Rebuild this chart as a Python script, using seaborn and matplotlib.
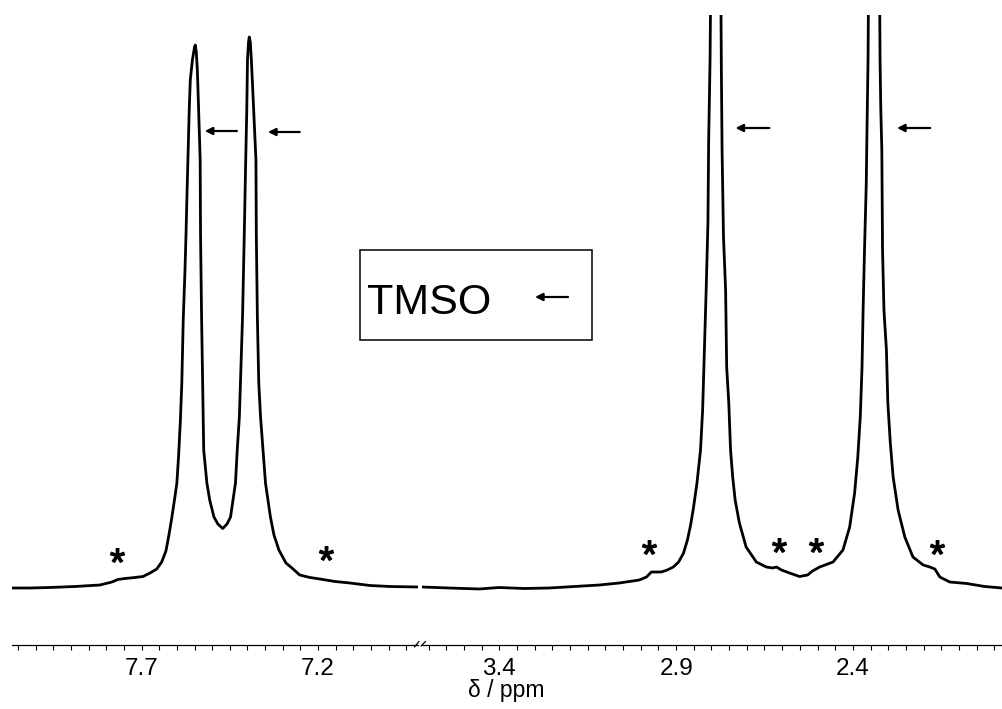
import numpy as np
import pandas as pd
import matplotlib
matplotlib.use("Agg")
import matplotlib.pyplot as plt
import seaborn as sns
from matplotlib.patches import Rectangle, FancyArrowPatch
from matplotlib.lines import Line2D

# ---------------- data ----------------
# aromatic region (left panel)
ppm_aromatic = [8.067, 8.016, 7.960, 7.889, 7.818, 7.784, 7.767, 7.747, 7.719, 7.696,
                7.676, 7.657, 7.643, 7.631, 7.623, 7.614, 7.606, 7.600, 7.595, 7.590,
                7.586, 7.582, 7.577, 7.574, 7.571, 7.568, 7.565, 7.562, 7.556, 7.550,
                7.548, 7.545, 7.542, 7.539, 7.536, 7.534, 7.533, 7.530, 7.527, 7.524,
                7.515, 7.507, 7.495, 7.484, 7.470, 7.458, 7.448, 7.441, 7.434, 7.429,
                7.423, 7.414, 7.409, 7.405, 7.402, 7.400, 7.397, 7.395, 7.392, 7.389,
                7.385, 7.379, 7.376, 7.375, 7.372, 7.368, 7.363, 7.356, 7.349, 7.335,
                7.325, 7.311, 7.291, 7.274, 7.252, 7.223, 7.195, 7.152, 7.110, 7.053,
                6.997, 6.917]
int_aromatic = [0, 0, 0.5, 1.5, 3, 6, 8.5, 9.5, 10.5, 11.5,
                15, 19, 26, 37, 52, 71, 90, 105, 133, 168,
                205, 268, 318, 355, 398, 438, 478, 508, 528, 541,
                543, 536, 518, 485, 451, 428, 355, 271, 205, 138,
                105, 88, 71, 64, 59.5, 64, 71, 88, 105, 138,
                171, 271, 355, 428, 478, 528, 546, 551, 546, 528,
                498, 451, 428, 355, 271, 205, 171, 138, 105, 71,
                53, 38, 25, 20, 13, 10.5, 9, 6.5, 5, 2.5,
                1.5, 1]

# aliphatic region (right panel)
ppm_aliphatic = [3.619, 3.542, 3.457, 3.401, 3.330, 3.259, 3.188, 3.117, 3.061, 3.004,
                 2.984, 2.970, 2.959, 2.942, 2.925, 2.908, 2.893, 2.879, 2.868, 2.859,
                 2.851, 2.841, 2.831, 2.825, 2.820, 2.815, 2.810, 2.808, 2.804, 2.800,
                 2.789, 2.777, 2.773, 2.772, 2.770, 2.766, 2.760, 2.757, 2.751, 2.746,
                 2.740, 2.733, 2.721, 2.702, 2.673, 2.645, 2.627, 2.616, 2.602, 2.579,
                 2.551, 2.528, 2.514, 2.494, 2.456, 2.428, 2.409, 2.395, 2.386, 2.379,
                 2.374, 2.371, 2.367, 2.362, 2.360, 2.357, 2.354, 2.341, 2.326, 2.323,
                 2.321, 2.318, 2.316, 2.312, 2.305, 2.301, 2.294, 2.286, 2.272, 2.253,
                 2.230, 2.201, 2.182, 2.168, 2.154, 2.126, 2.078, 2.027, 1.978]
int_aliphatic = [1, 0, -1, 0.5, -0.5, 0, 1.5, 3, 5, 8,
                 11, 16, 16, 16, 18, 21, 26, 35, 48, 63,
                 80, 105, 138, 178, 238, 298, 365, 446, 528, 690,
                 1150, 690, 573, 518, 438, 351, 298, 221, 185, 138,
                 111, 88, 65, 41, 26, 21, 20, 21, 18, 15,
                 11.5, 13, 17, 21, 26, 38, 61, 95, 131, 171,
                 221, 278, 338, 405, 458, 528, 688, 1150, 688, 528,
                 480, 438, 338, 278, 238, 185, 145, 111, 78, 51,
                 31, 23, 21, 19, 11, 6, 4.5, 1.5, 0]

# impurity markers (*)
star_ppm_aromatic = [7.769, 7.178]
star_int_aromatic = [33, 35]
star_ppm_aliphatic = [2.976, 2.609, 2.503, 2.162]
star_int_aliphatic = [41, 43, 43, 41]

# TMSO arrows (head ppm, tail ppm, intensity)
arrow_aromatic = [(7.521, 7.430, 457), (7.342, 7.252, 456)]
arrow_aliphatic = [(2.732, 2.636, 460), (2.275, 2.181, 460)]

ticks_aromatic_major = [7.7, 7.2]
ticks_aliphatic_major = [3.4, 2.9, 2.4]
tick_labels_aromatic = ["7.7", "7.2"]
tick_labels_aliphatic = ["3.4", "2.9", "2.4"]

df_ar = pd.DataFrame({"ppm": ppm_aromatic, "I": int_aromatic})
df_al = pd.DataFrame({"ppm": ppm_aliphatic, "I": int_aliphatic})

# ---------------- style ----------------
sns.set_theme(style="white")
plt.rcParams["font.family"] = ["Liberation Sans", "DejaVu Sans"]
plt.rcParams["mathtext.fontset"] = "custom"
plt.rcParams["mathtext.rm"] = "Liberation Sans"

W, H = 1002, 709
fig = plt.figure(figsize=(W / 100, H / 100), dpi=100)

def fx(x):
    return x / W

def fy(y):
    return 1 - y / H

ax_top, ax_bot = 15, 645
ax1 = fig.add_axes([fx(12), fy(ax_bot), fx(418 - 12), (ax_bot - ax_top) / H])
ax2 = fig.add_axes([fx(422), fy(ax_bot), fx(1002 - 422), (ax_bot - ax_top) / H])

panels = [
    (ax1, df_ar, (8.067, 6.917), ticks_aromatic_major, tick_labels_aromatic,
     np.arange(6.95, 8.06, 0.05), star_ppm_aromatic, star_int_aromatic, arrow_aromatic),
    (ax2, df_al, (3.619, 1.978), ticks_aliphatic_major, tick_labels_aliphatic,
     np.arange(2.0, 3.61, 0.05), star_ppm_aliphatic, star_int_aliphatic, arrow_aliphatic),
]

for ax, df, xl, maj, majlab, minor, sp, si, arrs in panels:
    sns.lineplot(data=df, x="ppm", y="I", ax=ax, color="black", lw=2.0,
                 sort=False, estimator=None)
    ax.plot(sp, si, linestyle="none", marker=r"$\mathrm{*}$", markersize=10,
            color="black")
    for head, tail, yv in arrs:
        ax.annotate("", xy=(head, yv), xytext=(tail, yv),
                    arrowprops=dict(arrowstyle="-|>", lw=1.6, color="black",
                                    mutation_scale=11, shrinkA=0, shrinkB=0))
    ax.set_xlim(*xl)
    ax.set_ylim(-57, 573)
    ax.set_xticks(maj)
    ax.set_xticklabels(majlab)
    ax.set_xticks(minor, minor=True)
    ax.set_yticks([])
    ax.set_xlabel("")
    ax.set_ylabel("")
    ax.set_facecolor("none")
    for s in ["left", "right", "top"]:
        ax.spines[s].set_visible(False)
    ax.spines["bottom"].set_color("black")
    ax.spines["bottom"].set_linewidth(0.9)
    ax.tick_params(axis="x", which="both", direction="out", length=3.8,
                   width=0.8, color="black", bottom=True)
    ax.tick_params(axis="x", which="major", labelsize=17.5, pad=5.5,
                   labelcolor="black")

# axis break marks
for x0, x1, y0, y1 in [(414.5, 419, 647, 641.5), (421, 425.5, 646, 641.5)]:
    fig.add_artist(Line2D([fx(x0), fx(x1)], [fy(y0), fy(y1)], color="black", lw=0.9))

# x label
fig.text(fx(506), fy(691), "δ / ppm", ha="center", va="center", fontsize=16.5,
         color="black")

# TMSO legend box
fig.add_artist(Rectangle((fx(360), fy(339.5)), fx(592 - 360), (339.5 - 250) / H,
                         transform=fig.transFigure, fill=False, edgecolor="black",
                         lw=1.1))
fig.text(fx(367), fy(313.5), "TMSO", ha="left", va="baseline", fontsize=31,
         color="black")
fig.add_artist(FancyArrowPatch(
    (fx(568), fy(297)), (fx(535), fy(297)), transform=fig.transFigure,
    arrowstyle="-|>", lw=1.6, color="black", mutation_scale=11,
    shrinkA=0, shrinkB=0))

fig.savefig("out.png", dpi=100)
